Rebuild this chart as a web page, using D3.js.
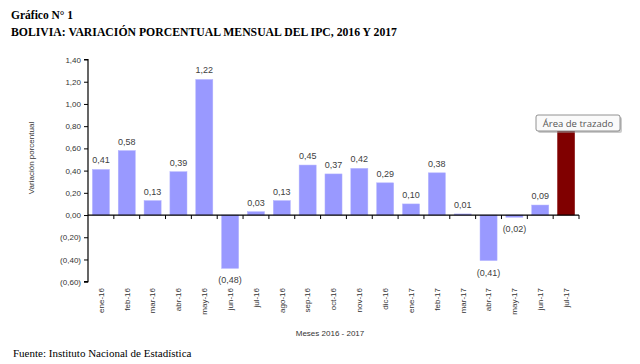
<!DOCTYPE html>
<html>
<head>
<meta charset="utf-8">
<script src="https://cdn.jsdelivr.net/npm/d3@7"></script>
<style>
  html, body { margin: 0; padding: 0; background: #fff; }
  svg { display: block; }
</style>
</head>
<body>
<svg id="chart" width="640" height="364"></svg>
<script>
const categories = ["ene-16","feb-16","mar-16","abr-16","may-16","jun-16","jul-16","ago-16","sep-16","oct-16","nov-16","dic-16","ene-17","feb-17","mar-17","abr-17","may-17","jun-17","jul-17"];
const values = [0.41, 0.58, 0.13, 0.39, 1.22, -0.48, 0.03, 0.13, 0.45, 0.37, 0.42, 0.29, 0.10, 0.38, 0.01, -0.41, -0.02, 0.09, 0.78];
const yTicks = [-0.6, -0.4, -0.2, 0, 0.2, 0.4, 0.6, 0.8, 1.0, 1.2, 1.4];
const highlighted = ["jul-17"];
const titleLine1 = "Gráfico N° 1";
const titleLine2 = "BOLIVIA: VARIACIÓN PORCENTUAL MENSUAL DEL IPC, 2016 Y 2017";
const yTitle = "Variación porcentual";
const xTitle = "Meses 2016 - 2017";
const source = "Fuente: Instituto Nacional de Estadística";
const tooltipText = "Área de trazado";

const svg = d3.select("#chart");
const pLeft = 88, pRight = 579, pTop = 59.5, pBottom = 281.7;

const x = d3.scaleBand().domain(categories).range([pLeft, pRight]).paddingInner(0.34).paddingOuter(0.17);
const y = d3.scaleLinear().domain([-0.6, 1.4]).range([pBottom, pTop]);

const fmt = v => {
  const s = Math.abs(v).toFixed(2).replace(".", ",");
  return v < 0 ? "(" + s + ")" : s;
};

// Titles
svg.append("text").attr("x", 11).attr("y", 19)
  .style("font-family", "'Liberation Serif', 'Times New Roman', serif")
  .style("font-weight", "bold").style("font-size", "11.5px").attr("fill", "#000")
  .text(titleLine1);
svg.append("text").attr("x", 11).attr("y", 36)
  .style("font-family", "'Liberation Serif', 'Times New Roman', serif")
  .style("font-weight", "bold").style("font-size", "11.5px").attr("fill", "#000")
  .attr("textLength", 386).attr("lengthAdjust", "spacingAndGlyphs")
  .text(titleLine2);

// Bars
const g = svg.append("g");
g.selectAll("rect.bar").data(categories).join("rect")
  .attr("class", "bar")
  .attr("x", d => x(d))
  .attr("width", x.bandwidth())
  .attr("y", (d, i) => y(Math.max(0, values[i])))
  .attr("height", (d, i) => Math.abs(y(values[i]) - y(0)))
  .attr("fill", d => highlighted.includes(d) ? "#800000" : "#9999ff")
  .attr("stroke", d => highlighted.includes(d) ? "#800000" : "#b3b3ff")
  .attr("stroke-width", 0.5);

// Value labels (the highlighted bar's label is hidden behind the tooltip in the reference)
const labelled = categories.map((c, i) => ({ c, v: values[i] })).filter(d => !highlighted.includes(d.c));
g.selectAll("text.val").data(labelled).join("text")
  .attr("class", "val")
  .attr("x", d => x(d.c) + x.bandwidth() / 2)
  .attr("y", d => d.v >= 0 ? y(d.v) - 6 : y(d.v) + 15)
  .attr("text-anchor", "middle")
  .style("font-family", "Arial, 'Liberation Sans', sans-serif")
  .style("font-size", "9px").attr("fill", "#404040")
  .text(d => fmt(d.v));

// Y axis
const yAxis = d3.axisLeft(y).tickValues(yTicks).tickSize(4).tickFormat(fmt);
const ya = svg.append("g").attr("transform", `translate(${pLeft},0)`).call(yAxis);
ya.select(".domain").attr("stroke", "#000").attr("stroke-width", 1.2).attr("d", `M-4,${y(1.4)}H0V${y(-0.6)}H-4`);
ya.selectAll(".tick line").attr("stroke", "#000");
ya.selectAll(".tick text").attr("x", -7)
  .style("font-family", "Arial, 'Liberation Sans', sans-serif")
  .style("font-size", "8px").attr("fill", "#333");

// X axis at zero with boundary ticks
const step = x.step();
const boundaries = d3.range(categories.length + 1).map(i => pLeft + i * step);
const xa = svg.append("g");
xa.append("line").attr("x1", pLeft).attr("x2", pRight).attr("y1", y(0)).attr("y2", y(0))
  .attr("stroke", "#000").attr("stroke-width", 1.2);
xa.selectAll("line.tk").data(boundaries.slice(1)).join("line").attr("class", "tk")
  .attr("x1", d => d).attr("x2", d => d).attr("y1", y(0)).attr("y2", y(0) + 4)
  .attr("stroke", "#000");

// X labels (rotated)
svg.selectAll("text.xl").data(categories).join("text").attr("class", "xl")
  .attr("transform", d => `translate(${x(d) + x.bandwidth() / 2},288) rotate(-90)`)
  .attr("text-anchor", "end").attr("dy", "0.35em")
  .style("font-family", "Arial, 'Liberation Sans', sans-serif")
  .style("font-size", "8px").attr("fill", "#333")
  .text(d => d);

// Axis titles
svg.append("text").attr("transform", "translate(31,158) rotate(-90)")
  .attr("text-anchor", "middle").attr("dy", "0.35em")
  .style("font-family", "Arial, 'Liberation Sans', sans-serif")
  .style("font-size", "8px").attr("fill", "#333").text(yTitle);
svg.append("text").attr("x", 330).attr("y", 336).attr("text-anchor", "middle")
  .style("font-family", "Arial, 'Liberation Sans', sans-serif")
  .style("font-size", "8px").attr("fill", "#333").text(xTitle);

// Source
svg.append("text").attr("x", 13).attr("y", 357)
  .style("font-family", "'Liberation Serif', 'Times New Roman', serif")
  .style("font-size", "11px").attr("fill", "#000")
  .text(source);

// Tooltip
const tt = svg.append("g").attr("transform", "translate(536,115)");
tt.append("rect").attr("x", 2).attr("y", 2).attr("width", 84).attr("height", 16).attr("rx", 2)
  .attr("fill", "#999").attr("opacity", 0.5);
tt.append("rect").attr("x", 0).attr("y", 0).attr("width", 84).attr("height", 16).attr("rx", 2)
  .attr("fill", "#fafafa").attr("stroke", "#767676").attr("stroke-width", 0.8);
tt.append("text").attr("x", 42).attr("y", 11.5).attr("text-anchor", "middle")
  .style("font-family", "'Open Sans', 'DejaVu Sans', sans-serif")
  .style("font-size", "9.5px").attr("fill", "#555").text(tooltipText);
</script>
</body>
</html>
